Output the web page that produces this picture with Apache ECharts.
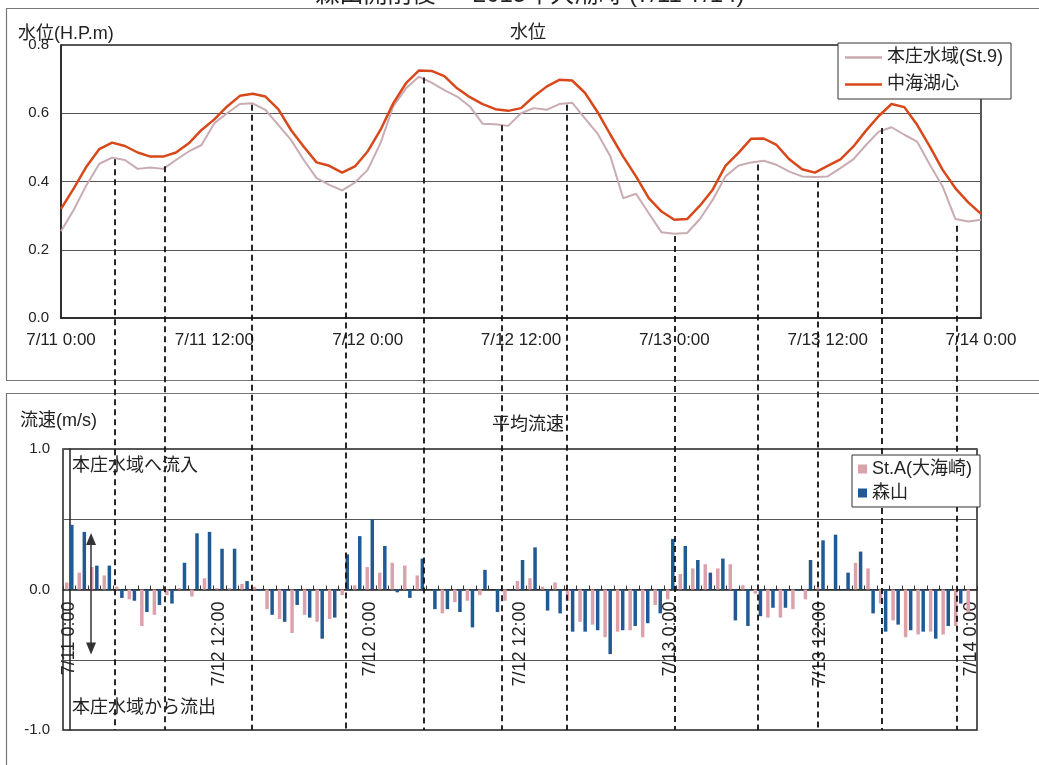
<!DOCTYPE html>
<html><head><meta charset="utf-8">
<script src="https://cdn.jsdelivr.net/npm/echarts@6/dist/echarts.min.js"></script>
<style>html,body{margin:0;padding:0;background:#fff}#c{width:1039px;height:765px}</style>
</head><body><div id="c"></div>
<script>
// ---- data ----
const hours = Array.from({length: 73}, (_, i) => i); // 7/11 0:00 .. 7/14 0:00 hourly
const topTickLabels = ['7/11 0:00','7/11 12:00','7/12 0:00','7/12 12:00','7/13 0:00','7/13 12:00','7/14 0:00'];
const bottomTickLabels = ['7/11 0:00','7/12 12:00','7/12 0:00','7/12 12:00','7/13 0:00','7/13 12:00','7/14 0:00'];
const honjoLevel = [0.254,0.317,0.390,0.452,0.470,0.463,0.437,0.441,0.437,0.463,0.488,0.507,0.571,0.600,0.627,0.629,0.610,0.566,0.522,0.463,0.410,0.390,0.374,0.397,0.434,0.512,0.620,0.673,0.707,0.690,0.668,0.649,0.620,0.569,0.568,0.563,0.600,0.615,0.610,0.627,0.631,0.585,0.540,0.473,0.351,0.364,0.307,0.251,0.247,0.249,0.290,0.346,0.415,0.446,0.456,0.461,0.449,0.429,0.415,0.413,0.415,0.439,0.465,0.507,0.546,0.559,0.537,0.517,0.449,0.385,0.290,0.283,0.288];
const nakaumiLevel = [0.320,0.380,0.444,0.495,0.514,0.504,0.485,0.473,0.473,0.485,0.512,0.551,0.582,0.620,0.651,0.657,0.649,0.612,0.551,0.502,0.456,0.446,0.426,0.444,0.488,0.551,0.629,0.688,0.725,0.724,0.709,0.673,0.647,0.627,0.612,0.607,0.615,0.649,0.678,0.698,0.696,0.660,0.603,0.537,0.473,0.415,0.351,0.312,0.288,0.290,0.329,0.376,0.446,0.483,0.525,0.526,0.507,0.465,0.436,0.426,0.446,0.465,0.502,0.549,0.592,0.627,0.618,0.566,0.502,0.434,0.380,0.339,0.305];
const staSpeed = [0.05,0.12,0.16,0.10,0.02,-0.07,-0.26,-0.18,-0.04,0.01,-0.05,0.08,0.01,0.01,0.04,0.02,-0.14,-0.21,-0.31,-0.18,-0.23,-0.21,-0.04,0.03,0.16,0.12,0.19,0.17,0.10,0.00,-0.17,-0.09,-0.08,-0.04,0.00,-0.08,0.06,0.08,0.02,0.05,-0.08,-0.23,-0.25,-0.34,-0.30,-0.29,-0.34,-0.11,-0.07,0.11,0.15,0.18,0.15,0.18,0.03,-0.03,-0.20,-0.20,-0.14,-0.07,0.01,0.00,0.00,0.19,0.15,-0.10,-0.22,-0.34,-0.32,-0.30,-0.32,-0.26,-0.16];
const moriyamaSpeed = [0.46,0.41,0.17,0.17,-0.06,-0.08,-0.16,-0.11,-0.10,0.19,0.40,0.41,0.29,0.29,0.06,-0.01,-0.18,-0.23,-0.11,-0.20,-0.35,-0.20,0.25,0.38,0.50,0.31,-0.02,-0.06,0.22,-0.14,-0.14,-0.16,-0.27,0.14,-0.16,0.00,0.21,0.30,-0.15,-0.17,-0.30,-0.30,-0.29,-0.46,-0.29,-0.26,-0.24,-0.17,0.36,0.31,0.21,0.12,0.22,-0.22,-0.26,-0.19,-0.13,-0.13,-0.01,0.21,0.35,0.39,0.12,0.27,-0.17,-0.30,-0.25,-0.29,-0.30,-0.35,-0.26,-0.10,0.00];
const markTimes = [4.2, 8.1, 14.9, 22.3, 28.4, 34.5, 39.6, 48.0, 54.5, 59.2, 64.2, 70.1];
const markLevels = [0.465, 0.445, 0.625, 0.368, 0.705, 0.565, 0.625, 0.24, 0.45, 0.40, 0.557, 0.27];
const arrowPos = 1.74, arrowTop = 0.36, arrowBottom = -0.42;

// ---- layout ----
const FONT = '"Liberation Sans", "Noto Sans CJK JP", sans-serif';
const GRID_TOP = {left: 61, right: 58, top: 45, height: 273};
const GRID_BOT = {left: 63, right: 62, top: 449, height: 281};
const GRID_OV = {left: 61, right: 58, top: 45, height: 685};
const ovMin = 0.8 - 0.8 * GRID_OV.height / GRID_TOP.height;

const txt = (text, x, y, size, align) => ({
  type: 'text', x, y, z: 100, silent: true,
  style: {text, fontSize: size, fontFamily: FONT, fill: '#222', align: align || 'left', verticalAlign: 'middle'}
});
const gridBase = {show: true, borderColor: '#222', borderWidth: 1.5, backgroundColor: 'transparent',
                  containLabel: false, outerBoundsMode: 'none'};

const chart = echarts.init(document.getElementById('c'), null, {renderer: 'canvas'});
chart.setOption({
  animation: false,
  backgroundColor: '#fff',
  textStyle: {fontFamily: FONT},
  grid: [
    Object.assign({}, gridBase, GRID_TOP),
    Object.assign({}, gridBase, GRID_BOT),
    Object.assign({}, gridBase, {show: false}, GRID_OV)
  ],
  xAxis: [
    {gridIndex: 0, type: 'value', min: 0, max: 72, interval: 12,
     axisLine: {show: true, lineStyle: {color: '#222', width: 1.5}}, axisTick: {show: false},
     splitLine: {show: false},
     axisLabel: {fontSize: 17, color: '#222', margin: 14, showMinLabel: true, showMaxLabel: true,
                 formatter: v => topTickLabels[Math.round(v / 12)]}},
    {gridIndex: 1, type: 'category', data: hours, boundaryGap: true, position: 'bottom',
     offset: -GRID_BOT.height / 2,
     axisLine: {show: true, onZero: false, lineStyle: {color: '#222', width: 1.5}},
     axisTick: {show: true, inside: true, length: 4, interval: 0, lineStyle: {color: '#333'}},
     splitLine: {show: false},
     axisLabel: {rotate: 90, fontSize: 18, color: '#222', margin: 12,
                 interval: (i) => i % 12 === 0,
                 formatter: (v, i) => bottomTickLabels[Math.round(i / 12)]}},
    {gridIndex: 2, type: 'value', min: 0, max: 72, show: false},
    {gridIndex: 1, type: 'value', min: -0.5, max: 72.5, show: false}
  ],
  yAxis: [
    {gridIndex: 0, type: 'value', min: 0, max: 0.8, interval: 0.2,
     axisLine: {show: true, lineStyle: {color: '#222', width: 1.5}}, axisTick: {show: false},
     splitLine: {show: true, lineStyle: {color: '#555', width: 1}},
     axisLabel: {fontSize: 15, color: '#222', margin: 12, formatter: v => v.toFixed(1)}},
    {gridIndex: 1, type: 'value', min: -1, max: 1, interval: 0.5,
     axisLine: {show: true, lineStyle: {color: '#222', width: 1.5}}, axisTick: {show: false},
     splitLine: {show: true, lineStyle: {color: '#555', width: 1}},
     axisLabel: {fontSize: 15, color: '#222', margin: 13,
                 formatter: v => (Math.abs(v % 1) < 1e-9 ? (v < 0 ? '-' + Math.abs(v).toFixed(1) : v.toFixed(1)) : '')}},
    {gridIndex: 2, type: 'value', min: ovMin, max: 0.8, show: false}
  ],
  legend: [
    {data: ['本庄水域(St.9)', '中海湖心'], orient: 'vertical', left: 838, top: 43, z: 30,
     icon: 'rect', itemWidth: 37, itemHeight: 2.5, itemGap: 6, padding: [4, 8, 4, 7],
     textStyle: {fontSize: 18, color: '#222', fontFamily: FONT, height: 21, lineHeight: 21},
     borderColor: '#333', borderWidth: 1, backgroundColor: '#fff', borderRadius: 0},
    {data: ['St.A(大海崎)', '森山'], orient: 'vertical', left: 852, top: 455, z: 30,
     icon: 'rect', itemWidth: 9, itemHeight: 9, itemGap: 6, padding: [5, 8, 5, 6],
     textStyle: {fontSize: 18, color: '#222', fontFamily: FONT},
     borderColor: '#333', borderWidth: 1, backgroundColor: '#fff', borderRadius: 0}
  ],
  series: [
    {name: '本庄水域(St.9)', type: 'line', xAxisIndex: 0, yAxisIndex: 0, symbol: 'none',
     data: hours.map(h => [h, honjoLevel[h]]),
     lineStyle: {color: '#c9abb2', width: 2}, itemStyle: {color: '#c9abb2'}},
    {name: '中海湖心', type: 'line', xAxisIndex: 0, yAxisIndex: 0, symbol: 'none',
     data: hours.map(h => [h, nakaumiLevel[h]]),
     lineStyle: {color: '#d8481b', width: 2.5}, itemStyle: {color: '#d8481b'}},
    {name: 'St.A(大海崎)', type: 'bar', xAxisIndex: 1, yAxisIndex: 1, data: staSpeed,
     barWidth: 3.5, barGap: '45%', itemStyle: {color: '#dba2ac'}},
    {name: '森山', type: 'bar', xAxisIndex: 1, yAxisIndex: 1, data: moriyamaSpeed,
     barWidth: 3.5, barGap: '45%', itemStyle: {color: '#1f5a95'}},
    {name: 'marks', type: 'line', xAxisIndex: 2, yAxisIndex: 2, data: [], z: 20, silent: true,
     markLine: {silent: true, symbol: ['none', 'none'], label: {show: false}, animation: false,
       lineStyle: {color: '#111', width: 1.8, type: [6, 4]},
       data: markTimes.map((t, i) => [{coord: [t, markLevels[i]]}, {coord: [t, ovMin]}])}},
    {name: 'arrow', type: 'line', xAxisIndex: 3, yAxisIndex: 1, data: [], z: 20, silent: true,
     markLine: {silent: true, symbol: ['triangle', 'triangle'], symbolSize: [10, 12], label: {show: false}, animation: false,
       lineStyle: {color: '#333', width: 1.5, type: 'solid'}, itemStyle: {color: '#333'},
       data: [[{coord: [arrowPos, arrowTop]}, {coord: [arrowPos, arrowBottom]}]]}}
  ],
  graphic: [
    {type: 'rect', silent: true, z: -10, shape: {x: 6.5, y: 8.5, width: 1100, height: 372},
     style: {fill: 'none', stroke: '#777', lineWidth: 1.2}},
    {type: 'rect', silent: true, z: -10, shape: {x: 6.5, y: 393.5, width: 1100, height: 500},
     style: {fill: 'none', stroke: '#777', lineWidth: 1.2}},
    {type: 'text', x: 530, y: 7, z: 100, silent: true,
     style: {text: '森山開削後 ― 2015年大潮時 (7/11-7/14)', fontSize: 24, fontFamily: FONT, fill: '#222', align: 'center', verticalAlign: 'bottom'}},
    txt('水位(H.P.m)', 18, 34, 18),
    txt('水位', 528, 33, 18, 'center'),
    txt('流速(m/s)', 20, 421, 18),
    txt('平均流速', 528, 425, 18, 'center'),
    txt('本庄水域へ流入', 72, 466, 18),
    txt('本庄水域から流出', 72, 708, 18)
  ]
});
</script>
</body></html>
